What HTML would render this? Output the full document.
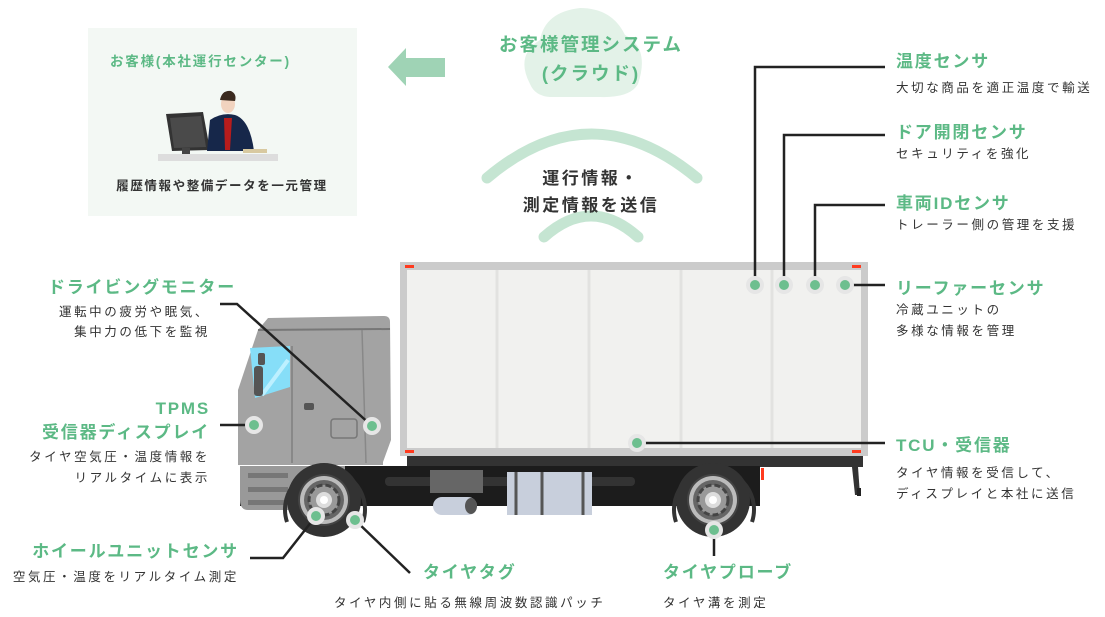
<!DOCTYPE html>
<html><head><meta charset="utf-8"><style>
html,body{margin:0;padding:0;background:#fff;width:1105px;height:617px;overflow:hidden}
svg{display:block}
text{font-family:"Liberation Sans","Noto Sans CJK JP",sans-serif}
.g{fill:#5cb985;font-weight:bold;font-size:17px;letter-spacing:1.8px}
.s{fill:#333;font-size:12.5px;letter-spacing:2.6px}
.b{fill:#333;font-weight:bold;font-size:17px;letter-spacing:2.5px}
.ln{stroke:#222;stroke-width:2.5;fill:none}
</style></head><body>
<svg width="1105" height="617" viewBox="0 0 1105 617">
<rect x="88" y="28" width="269" height="188" fill="#f3f8f4"/>
<text x="110" y="66" fill="#5cb985" font-weight="bold" font-size="13.5" letter-spacing="1.8">お客様(本社運行センター)</text>
<rect x="158" y="154" width="120" height="7" fill="#ddd"/>
<polygon points="166,114 203,112 210,150 172,151" fill="#333"/>
<polygon points="170,118 201,116 206,147 174,148" fill="#4a4a4a"/>
<rect x="182" y="148" width="8" height="6" fill="#444"/>
<path d="M207,151 L210,120 Q222,112 235,115 Q250,120 254,151 Z" fill="#16274a"/>
<polygon points="224,118 232,118 230,150 225,150" fill="#b71c1c"/>
<ellipse cx="228" cy="104" rx="7" ry="9" fill="#f1d3bf"/>
<path d="M220,100 Q222,90 231,91 Q237,94 235,101 Z" fill="#3a2a1e"/>
<rect x="243" y="149" width="24" height="4" fill="#d8c9a0"/>
<text x="222" y="190" text-anchor="middle" fill="#333" font-weight="bold" font-size="12.5" letter-spacing="1.6">履歴情報や整備データを一元管理</text>
<polygon points="388,67 406,48 406,58 445,58 445,77 406,77 406,86" fill="#9fd3b5"/>
<path d="M530,84 Q515,55 540,40 Q545,12 580,8 Q612,8 625,35 Q650,48 638,84 Q630,98 600,97 L550,97 Q535,96 530,84 Z" fill="#e3f2e8"/>
<text x="591" y="51" text-anchor="middle" class="g" style="font-size:18.5px;letter-spacing:2px">お客様管理システム</text>
<text x="591" y="80" text-anchor="middle" class="g" style="font-size:18.5px;letter-spacing:2px">(クラウド)</text>
<path d="M487,178 Q591,90 697,178" stroke="#c5e5d2" stroke-width="11" fill="none" stroke-linecap="round"/>
<path d="M544,237 Q591,195 638,237" stroke="#c5e5d2" stroke-width="11" fill="none" stroke-linecap="round"/>
<text x="591" y="184" text-anchor="middle" class="b">運行情報・</text>
<text x="591" y="211" text-anchor="middle" class="b">測定情報を送信</text>
<rect x="400" y="262" width="468" height="194" fill="#cbcbcb"/>
<rect x="407" y="270" width="454" height="178" fill="#f1f1ef"/>
<g stroke="#e2e2e0" stroke-width="3"><line x1="497" y1="270" x2="497" y2="448"/><line x1="589" y1="270" x2="589" y2="448"/><line x1="681" y1="270" x2="681" y2="448"/><line x1="772" y1="270" x2="772" y2="448"/></g>
<g fill="#ff3b1f"><rect x="405" y="265" width="9" height="3"/><rect x="852" y="265" width="9" height="3"/><rect x="405" y="450" width="9" height="3"/><rect x="852" y="450" width="9" height="3"/><rect x="761" y="468" width="3" height="12"/></g>
<rect x="407" y="456" width="456" height="11" fill="#333"/>
<polygon points="852,467 858,467 860,495 855,495" fill="#333"/>
<rect x="857" y="488" width="4" height="8" fill="#222"/>
<rect x="240" y="466" width="520" height="40" fill="#1c1c1c"/>
<rect x="385" y="477" width="250" height="9" rx="4" fill="#333"/>
<rect x="430" y="470" width="53" height="23" fill="#666"/>
<rect x="507" y="472" width="85" height="43" fill="#c8cfdc"/>
<g stroke="#555" stroke-width="3"><line x1="516" y1="472" x2="516" y2="515"/><line x1="542" y1="472" x2="542" y2="515"/><line x1="583" y1="472" x2="583" y2="515"/></g>
<rect x="433" y="497" width="44" height="18" rx="9" fill="#c8cfdc"/>
<ellipse cx="471" cy="506" rx="6" ry="8" fill="#555"/>
<path d="M238,465 L238,390 L248,360 L258,330 L268,318 L384,316 Q390,316 390,322 L391,440 L383,462 L383,465 Z" fill="#a3a3a3"/>
<path d="M240,466 L345,466 L345,510 L248,510 Q240,510 240,500 Z" fill="#999"/>
<g fill="#777"><rect x="248" y="473" width="40" height="5"/><rect x="248" y="487" width="40" height="5"/><rect x="248" y="500" width="40" height="5"/></g>
<line x1="258" y1="330" x2="390" y2="329" stroke="#777" stroke-width="2"/>
<polygon points="250,348 290,346 290,387 255,398" fill="#86def8"/>
<line x1="262" y1="395" x2="288" y2="360" stroke="#bdf0ff" stroke-width="4"/>
<rect x="258" y="353" width="7" height="12" rx="2" fill="#555"/>
<rect x="254" y="366" width="9" height="30" rx="3" fill="#555"/>
<line x1="292" y1="346" x2="292" y2="463" stroke="#888" stroke-width="2"/>
<line x1="362" y1="330" x2="366" y2="463" stroke="#888" stroke-width="1.5"/>
<rect x="331" y="419" width="26" height="19" rx="3" fill="none" stroke="#777" stroke-width="1.5"/>
<rect x="304" y="403" width="10" height="7" rx="2" fill="#555"/>
<g id="w">
<path d="M287,522 A40,40 0 1 1 363,522" stroke="#333" stroke-width="4" fill="none"/>
<circle cx="324" cy="500" r="37" fill="#333"/>
<circle cx="324" cy="500" r="26" fill="#444"/>
<circle cx="324" cy="500" r="24" fill="#bbb"/>
<circle cx="324" cy="500" r="20" fill="#666"/>
<circle cx="324" cy="500" r="15" fill="#999" stroke="#444" stroke-width="3" stroke-dasharray="6 3"/>
<circle cx="324" cy="500" r="8" fill="#ddd"/>
<circle cx="324" cy="500" r="4" fill="#fff"/>
</g>
<use href="#w" transform="translate(389,0)"/>
<polyline class="ln" points="220,304 237,304 372,426"/>
<line class="ln" x1="220" y1="425" x2="254" y2="425"/>
<polyline class="ln" points="755,285 755,67 885,67"/>
<polyline class="ln" points="784,285 784,135 885,135"/>
<polyline class="ln" points="815,285 815,205 885,205"/>
<line class="ln" x1="845" y1="285" x2="885" y2="285"/>
<line class="ln" x1="637" y1="443" x2="885" y2="443"/>
<polyline class="ln" points="316,516 283,558 250,558"/>
<polyline class="ln" points="355,520 410,573"/>
<line class="ln" x1="714" y1="530" x2="714" y2="556"/>
<g fill="#6dbf8f" stroke="#e6e6e6" stroke-width="4">
<circle cx="254" cy="425" r="7"/><circle cx="372" cy="426" r="7"/>
<circle cx="755" cy="285" r="7"/><circle cx="784" cy="285" r="7"/><circle cx="815" cy="285" r="7"/><circle cx="845" cy="285" r="7"/>
<circle cx="637" cy="443" r="7"/><circle cx="316" cy="516" r="7"/><circle cx="355" cy="520" r="7"/><circle cx="714" cy="530" r="7"/>
</g>
<text x="896" y="67" class="g">温度センサ</text>
<text x="896" y="92" class="s">大切な商品を適正温度で輸送</text>
<text x="896" y="138" class="g">ドア開閉センサ</text>
<text x="896" y="158" class="s">セキュリティを強化</text>
<text x="896" y="209" class="g">車両IDセンサ</text>
<text x="896" y="229" class="s">トレーラー側の管理を支援</text>
<text x="896" y="294" class="g">リーファーセンサ</text>
<text x="896" y="314" class="s">冷蔵ユニットの</text>
<text x="896" y="335" class="s">多様な情報を管理</text>
<text x="896" y="451" class="g">TCU・受信器</text>
<text x="896" y="477" class="s">タイヤ情報を受信して、</text>
<text x="896" y="498" class="s">ディスプレイと本社に送信</text>
<text x="236" y="293" text-anchor="end" class="g">ドライビングモニター</text>
<text x="210" y="316" text-anchor="end" class="s">運転中の疲労や眠気、</text>
<text x="210" y="336" text-anchor="end" class="s">集中力の低下を監視</text>
<text x="210" y="414" text-anchor="end" class="g">TPMS</text>
<text x="210" y="438" text-anchor="end" class="g">受信器ディスプレイ</text>
<text x="210" y="461" text-anchor="end" class="s">タイヤ空気圧・温度情報を</text>
<text x="210" y="482" text-anchor="end" class="s">リアルタイムに表示</text>
<text x="239" y="557" text-anchor="end" class="g">ホイールユニットセンサ</text>
<text x="239" y="581" text-anchor="end" class="s">空気圧・温度をリアルタイム測定</text>
<text x="423" y="578" class="g">タイヤタグ</text>
<text x="334" y="607" class="s">タイヤ内側に貼る無線周波数認識パッチ</text>
<text x="663" y="578" class="g">タイヤプローブ</text>
<text x="663" y="607" class="s">タイヤ溝を測定</text>
</svg>
</body></html>
